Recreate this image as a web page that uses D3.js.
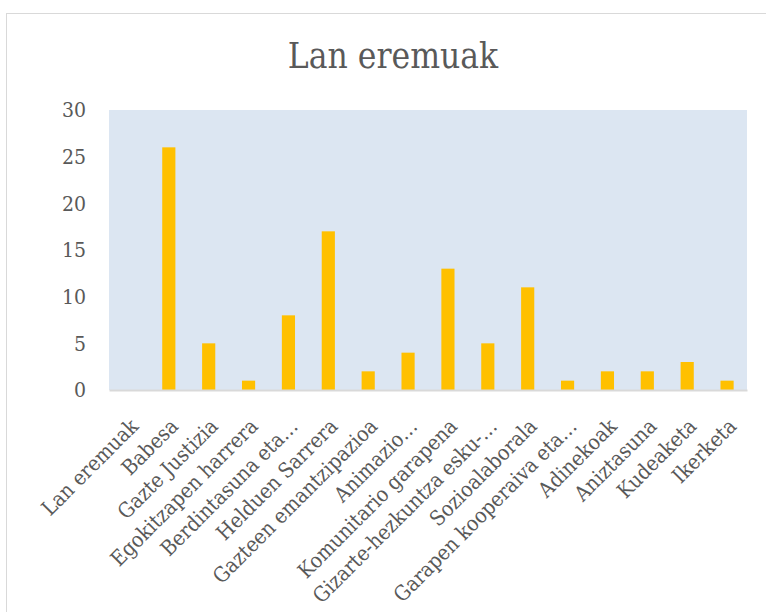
<!DOCTYPE html>
<html>
<head>
<meta charset="utf-8">
<script src="https://cdn.jsdelivr.net/npm/d3@7"></script>
<style>
  body { margin: 0; background: #fff; }
  svg { display: block; }
</style>
</head>
<body>
<div id="chart"></div>
<script>
/* DATA */
const categories = ["Lan eremuak", "Babesa", "Gazte Justizia", "Egokitzapen harrera",
  "Berdintasuna eta…", "Helduen Sarrera", "Gazteen emantzipazioa", "Animazio…",
  "Komunitario garapena", "Gizarte-hezkuntza esku-…", "Sozioalaborala",
  "Garapen kooperaiva eta…", "Adinekoak", "Aniztasuna", "Kudeaketa", "Ikerketa"];
const values = [0, 26, 5, 1, 8, 17, 2, 4, 13, 5, 11, 1, 2, 2, 3, 1];
const yTicks = [0, 5, 10, 15, 20, 25, 30];
const title = "Lan eremuak";

/* CONSTANTS */
const width = 766, height = 612,
      margin = {top: 110, bottom: 222, left: 109, right: 19},
      innerWidth = width - margin.left - margin.right,
      innerHeight = height - margin.top - margin.bottom;
const font = "'DejaVu Serif Condensed', 'DejaVu Serif', serif";
const textColor = "#595959";

const svg = d3.select("#chart")
  .append("svg")
    .attr("width", width)
    .attr("height", height);

/* CHART FRAME */
svg.append("rect")
  .attr("x", 6.5).attr("y", 13.5)
  .attr("width", width + 10).attr("height", height + 10)
  .attr("fill", "#fff")
  .attr("stroke", "#d9d9d9")
  .attr("stroke-width", 1);

const g = svg.append("g")
  .attr("transform", `translate(${margin.left},${margin.top})`);

/* SCALES */
const xScale = d3.scaleBand()
  .domain(categories)
  .range([0, innerWidth])
  .paddingInner(0.67)
  .paddingOuter(0.335);

const yScale = d3.scaleLinear()
  .domain([0, 30])
  .range([innerHeight, 0]);

/* PLOT AREA */
g.append("rect")
  .attr("width", innerWidth)
  .attr("height", innerHeight)
  .attr("fill", "#dce6f2");

/* BARS */
g.selectAll(".bar")
  .data(values)
  .join("rect")
    .attr("class", "bar")
    .attr("x", (d, i) => xScale(categories[i]))
    .attr("y", d => yScale(d))
    .attr("width", xScale.bandwidth())
    .attr("height", d => innerHeight - yScale(d))
    .attr("fill", "#ffc000");

/* Y AXIS */
const yAxis = g.append("g")
  .call(d3.axisLeft(yScale).tickValues(yTicks).tickSize(0).tickPadding(23));
yAxis.select(".domain").remove();
yAxis.selectAll("text")
  .style("font-family", font)
  .style("font-size", "21px")
  .attr("fill", textColor);

/* X AXIS */
const xAxis = g.append("g")
  .attr("transform", `translate(0,${innerHeight})`)
  .call(d3.axisBottom(xScale).tickSize(0).tickSizeOuter(0));
xAxis.select(".domain")
  .attr("stroke", "#d9d9d9")
  .attr("stroke-width", 2);
xAxis.selectAll("text")
  .style("font-family", font)
  .style("font-size", "21px")
  .attr("fill", textColor)
  .attr("text-anchor", "end")
  .attr("y", 0)
  .attr("dy", "0.71em")
  .attr("transform", "translate(0,27) rotate(-45)");

/* TITLE */
svg.append("text")
  .attr("x", 393)
  .attr("y", 68)
  .attr("text-anchor", "middle")
  .style("font-family", font)
  .style("font-size", "35px")
  .attr("fill", textColor)
  .text(title);
</script>
</body>
</html>
